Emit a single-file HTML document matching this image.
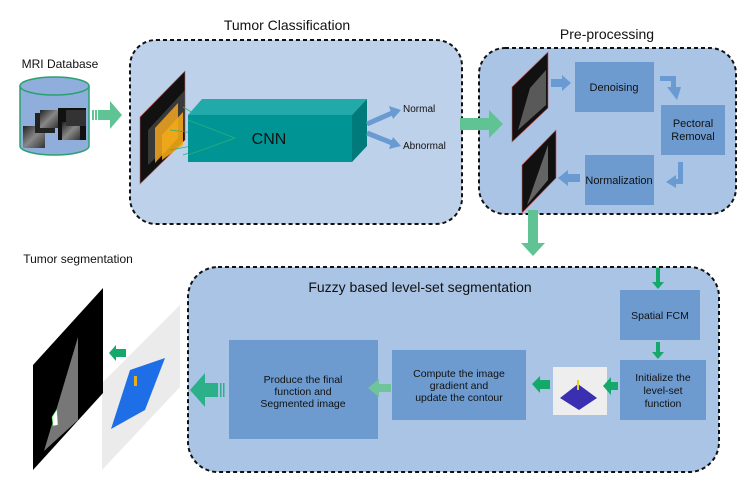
<!DOCTYPE html>
<html><head><meta charset="utf-8"><style>
body{margin:0;background:#fff;}
svg{display:block;font-family:"Liberation Sans",sans-serif;}
</style></head><body>
<svg width="747" height="496" viewBox="0 0 747 496" xmlns="http://www.w3.org/2000/svg">
<defs>
<linearGradient id="mam" x1="0" y1="0" x2="1" y2="1">
<stop offset="0" stop-color="#222"/><stop offset="0.5" stop-color="#888"/><stop offset="1" stop-color="#333"/>
</linearGradient>
</defs>
<text x="287" y="30" font-size="14" text-anchor="middle" fill="#111">Tumor Classification</text>
<text x="607" y="39" font-size="14" text-anchor="middle" fill="#111">Pre-processing</text>
<text x="60" y="68" font-size="12" text-anchor="middle" fill="#111">MRI Database</text>
<text x="78" y="263" font-size="12" text-anchor="middle" fill="#111">Tumor segmentation</text>

<rect x="130" y="40" width="332" height="184" rx="26" fill="#bed1ea" stroke="#111" stroke-width="2" stroke-dasharray="4,3"/>
<rect x="479" y="48" width="257" height="166" rx="26" fill="#a9c4e4" stroke="#111" stroke-width="2" stroke-dasharray="4,3"/>
<rect x="188" y="267" width="531" height="205" rx="30" fill="#a9c4e4" stroke="#111" stroke-width="2" stroke-dasharray="4,3"/>
<text x="420" y="292" font-size="14" text-anchor="middle" fill="#111">Fuzzy based level-set segmentation</text>

<path d="M20,86 L20,146 A34.5,9 0 0 0 89,146 L89,86" fill="#8faedb" stroke="#2aa070" stroke-width="1.5"/>
<ellipse cx="54.5" cy="86" rx="34.5" ry="9" fill="#8faedb" stroke="#2aa070" stroke-width="1.5"/>
<rect x="23" y="126" width="22" height="22" fill="url(#mam)"/>
<rect x="35" y="113" width="20" height="20" fill="#222"/>
<rect x="40" y="110" width="18" height="18" fill="url(#mam)"/>
<rect x="58" y="108" width="28" height="32" fill="#111"/>
<rect x="62" y="122" width="18" height="18" fill="url(#mam)"/>
<rect x="66" y="110" width="20" height="16" fill="#333"/>

<rect x="92" y="110" width="2" height="10" fill="#5fc394"/><rect x="95" y="110" width="2" height="10" fill="#5fc394"/>
<polygon points="98,110 110,110 110,101 122,115 110,129 110,120 98,120" fill="#5fc394"/>

<polygon points="140,117 185,71 185,140 140,184" fill="#111" stroke="#c55" stroke-width="0.6"/>
<polygon points="148,130 185,90 185,130 148,165" fill="#555" opacity="0.6"/>
<polygon points="155,128 178,103 178,138 155,163" fill="#e8a020" opacity="0.9"/>
<polygon points="162,135 183,112 183,145 162,160" fill="#f0a818" opacity="0.9"/>
<g stroke="#2bb07a" stroke-width="0.8">
<line x1="183" y1="107" x2="235" y2="138"/><line x1="183" y1="155" x2="235" y2="138"/>
<line x1="170" y1="130" x2="235" y2="138"/><line x1="170" y1="150" x2="235" y2="138"/>
</g>

<polygon points="188,115 202,99 367,99 352,115" fill="#22aaaa"/>
<polygon points="352,115 367,99 367,146 352,162" fill="#007a7a"/>
<rect x="188" y="115" width="164" height="47" fill="#009494"/>
<g stroke="#2bb07a" stroke-width="0.8">
<line x1="188" y1="120" x2="235" y2="138"/><line x1="188" y1="155" x2="235" y2="138"/>
</g>
<text x="269" y="144" font-size="16" text-anchor="middle" fill="#111">CNN</text>
<line x1="367" y1="124" x2="392" y2="113" stroke="#6a9ad2" stroke-width="5"/>
<polygon points="389,106 401,110 393,119" fill="#6a9ad2"/>
<line x1="367" y1="133" x2="392" y2="143" stroke="#6a9ad2" stroke-width="5"/>
<polygon points="393,137 401,146 389,149" fill="#6a9ad2"/>
<text x="403" y="112" font-size="10" fill="#111">Normal</text>
<text x="403" y="149" font-size="10" fill="#111">Abnormal</text>

<polygon points="460,118 489,118 489,110 503,124 489,138 489,130 460,130" fill="#5fc394"/>

<polygon points="512,87 548,52 548,108 512,142" fill="#111" stroke="#c55" stroke-width="0.6"/>
<polygon points="518,130 530,88 546,70 546,105" fill="#777" opacity="0.7"/>
<polygon points="551,79 562,79 562,75 571,83 562,91 562,87 551,87" fill="#6a9ad2"/>
<rect x="575" y="62" width="79" height="50" fill="#6d9bd0"/>
<text x="614" y="91" font-size="11" text-anchor="middle" fill="#111">Denoising</text>
<polygon points="660,76 676,76 676,87 681,87 677,100 667,87 671,87 671,81 660,81" fill="#6a9ad2"/>
<rect x="661" y="105" width="64" height="50" fill="#6d9bd0"/>
<text x="693" y="127" font-size="11" text-anchor="middle" fill="#111">Pectoral</text>
<text x="693" y="140" font-size="11" text-anchor="middle" fill="#111">Removal</text>
<polygon points="678,162 683,162 683,184 676,184 676,188 666,182 676,175 676,179 678,179" fill="#6a9ad2"/>
<rect x="585" y="155" width="69" height="50" fill="#6d9bd0"/>
<text x="619" y="184" font-size="11" text-anchor="middle" fill="#111">Normalization</text>
<polygon points="580,174 568,174 568,170 558,178 568,186 568,182 580,182" fill="#6a9ad2"/>
<polygon points="522,165 556,130 556,178 522,213" fill="#111" stroke="#c55" stroke-width="0.6"/>
<polygon points="527,205 548,145 548,180" fill="#888" opacity="0.7"/>
<polygon points="528,210 538,210 538,243 545,243 533,256 521,243 528,243" fill="#5fc394"/>

<polygon points="656,268 660,268 660,282 664,282 658,289 652,282 656,282" fill="#14a86a"/>
<rect x="620" y="290" width="80" height="50" fill="#6d9bd0"/>
<text x="660" y="319" font-size="10.5" text-anchor="middle" fill="#111">Spatial FCM</text>
<polygon points="656,342 660,342 660,352 664,352 658,359 652,352 656,352" fill="#14a86a"/>
<rect x="620" y="360" width="86" height="60" fill="#6d9bd0"/>
<text x="663" y="381" font-size="10.5" text-anchor="middle" fill="#111">Initialize the</text>
<text x="663" y="394" font-size="10.5" text-anchor="middle" fill="#111">level-set</text>
<text x="663" y="407" font-size="10.5" text-anchor="middle" fill="#111">function</text>
<rect x="553" y="367" width="54" height="48" fill="#eeeeee"/>
<polygon points="560,398 578,384 597,398 579,410" fill="#3a2fb0"/>
<rect x="577" y="380" width="2" height="10" fill="#e8d020"/>
<polygon points="618,382 618,390 611,390 611,395 603,386 611,377 611,382" fill="#14a86a"/>
<polygon points="550,380 550,389 540,389 540,393 532,384 540,376 540,380" fill="#14a86a"/>
<rect x="392" y="350" width="134" height="70" fill="#6d9bd0"/>
<text x="459" y="377" font-size="10.5" text-anchor="middle" fill="#111">Compute the image</text>
<text x="459" y="389" font-size="10.5" text-anchor="middle" fill="#111">gradient and</text>
<text x="459" y="401" font-size="10.5" text-anchor="middle" fill="#111">update the contour</text>
<rect x="229" y="340" width="149" height="99" fill="#6d9bd0"/>
<text x="303" y="383" font-size="10.5" text-anchor="middle" fill="#111">Produce the final</text>
<text x="303" y="395" font-size="10.5" text-anchor="middle" fill="#111">function and</text>
<text x="303" y="407" font-size="10.5" text-anchor="middle" fill="#111">Segmented image</text>
<polygon points="391,384 391,392 379,392 379,397 368,388 379,379 379,384" fill="#6fc49a"/>
<rect x="220" y="383" width="1.5" height="14" fill="#2bb08a"/><rect x="223" y="383" width="1.5" height="14" fill="#2bb08a"/>
<polygon points="218,383 218,397 205,397 205,407 190,390 205,373 205,383" fill="#2bb08a"/>

<polygon points="102,383 180,305 180,387 102,470" fill="#ebebeb"/>
<polygon points="111,429 130,370 165,358 145,410" fill="#1e6ee8"/>
<rect x="134" y="376" width="3" height="10" fill="#e8b020"/>
<polygon points="33,365 103,288 103,393 33,470" fill="#000"/>
<polygon points="44,451 78,337 78,420" fill="#777"/>
<polygon points="52,417 57,409 58,425 53,426" fill="#fff" stroke="#3c3" stroke-width="0.6"/>
<polygon points="126,349 116,349 116,345 109,353 116,361 116,357 126,357" fill="#14a86a"/>
</svg>
</body></html>
